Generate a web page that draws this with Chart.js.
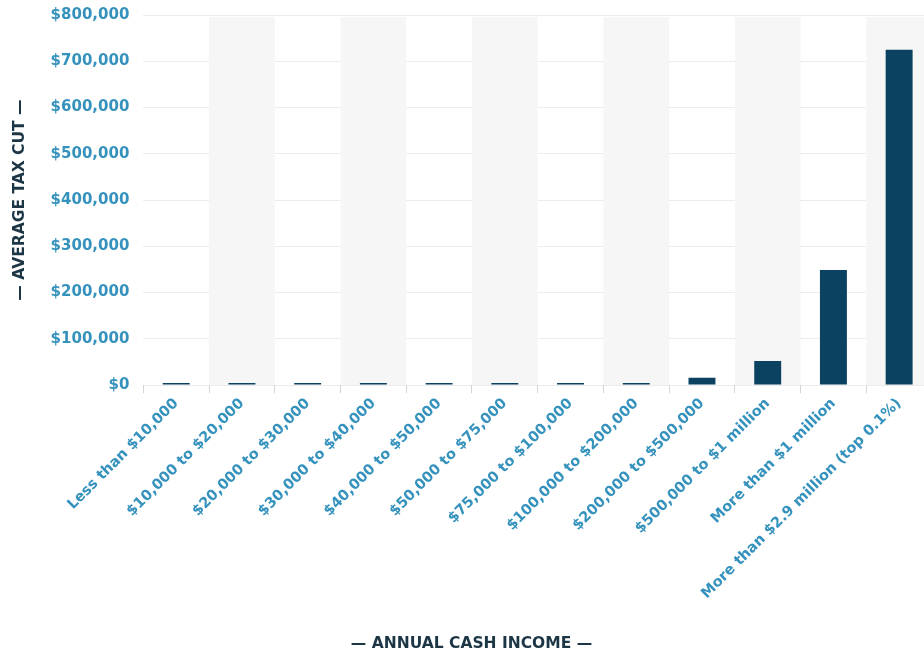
<!DOCTYPE html>
<html>
<head>
<meta charset="utf-8">
<script src="https://cdn.jsdelivr.net/npm/chart.js@4"></script>
<style>
  html, body { margin: 0; padding: 0; background: #fff; overflow: hidden; }
  #wrap { position: absolute; left: 0; top: 0; width: 932px; height: 653px; }
</style>
</head>
<body>
<div id="wrap"><canvas id="taxChart"></canvas></div>
<script>
// Average tax cut by annual cash income
const incomeGroups = [
    'Less than $10,000',
    '$10,000 to $20,000',
    '$20,000 to $30,000',
    '$30,000 to $40,000',
    '$40,000 to $50,000',
    '$50,000 to $75,000',
    '$75,000 to $100,000',
    '$100,000 to $200,000',
    '$200,000 to $500,000',
    '$500,000 to $1 million',
    'More than $1 million',
    'More than $2.9 million (top 0.1%)'
];
const avgTaxCut = [1500, 1500, 600, 800, 900, 1100, 1300, 4500, 16000, 52000, 249000, 725000];
const yTickLabels = ['$0', '$100,000', '$200,000', '$300,000', '$400,000', '$500,000', '$600,000', '$700,000', '$800,000'];

const tickBlue = '#3592bd';
const navy = '#1c3646';

// light grey band behind every other income group
const bandPlugin = {
    id: 'bands',
    beforeDatasetsDraw(chart) {
        const { ctx, chartArea, scales } = chart;
        const x = scales.x;
        const half = (x.getPixelForValue(1) - x.getPixelForValue(0)) / 2;
        ctx.save();
        ctx.fillStyle = '#f6f6f6';
        incomeGroups.forEach((g, i) => {
            if (i % 2 === 1) {
                const c = x.getPixelForValue(i);
                ctx.fillRect(c - half, chartArea.top + 2, half * 2, chartArea.bottom - chartArea.top - 2);
            }
        });
        ctx.restore();
    }
};

const ctx = document.getElementById('taxChart').getContext('2d');
new Chart(ctx, {
    type: 'bar',
    data: {
        labels: incomeGroups,
        datasets: [{
            label: 'Average tax cut',
            data: avgTaxCut,
            backgroundColor: '#0b4262',
            categoryPercentage: 1,
            barPercentage: 0.41,
            minBarLength: 2
        }]
    },
    plugins: [bandPlugin],
    options: {
        responsive: true,
        maintainAspectRatio: false,
        animation: false,
        layout: { padding: { top: 0, left: 11, right: 0, bottom: 0 } },
        plugins: {
            legend: { display: false },
            tooltip: { enabled: false },
            title: {
                display: true,
                position: 'bottom',
                text: '— ANNUAL CASH INCOME —',
                color: navy,
                font: { family: 'DejaVu Sans', size: 15.5, weight: 'bold' },
                padding: { top: 30, bottom: 0 }
            }
        },
        scales: {
            y: {
                min: 0,
                max: 800000,
                ticks: {
                    stepSize: 100000,
                    color: tickBlue,
                    padding: 6,
                    font: { family: 'DejaVu Sans', size: 15, weight: 'bold' },
                    callback: (v, i) => yTickLabels[i]
                },
                // invisible tick marks just open the gap between labels and plot
                grid: { color: '#ececec', drawTicks: true, tickLength: 8, tickColor: 'rgba(0,0,0,0)' },
                border: { display: false },
                title: {
                    display: true,
                    text: '— AVERAGE TAX CUT —',
                    color: navy,
                    font: { family: 'DejaVu Sans', size: 15.5, weight: 'bold' },
                    padding: { top: 0, bottom: 15 }
                }
            },
            x: {
                ticks: {
                    color: tickBlue,
                    minRotation: 45,
                    maxRotation: 45,
                    padding: 2,
                    font: { family: 'DejaVu Sans', size: 14.5, weight: 'bold' }
                },
                grid: { drawOnChartArea: false, drawTicks: true, tickLength: 8, color: '#d4d4d4' },
                border: { display: false }
            }
        }
    }
});
</script>
</body>
</html>
